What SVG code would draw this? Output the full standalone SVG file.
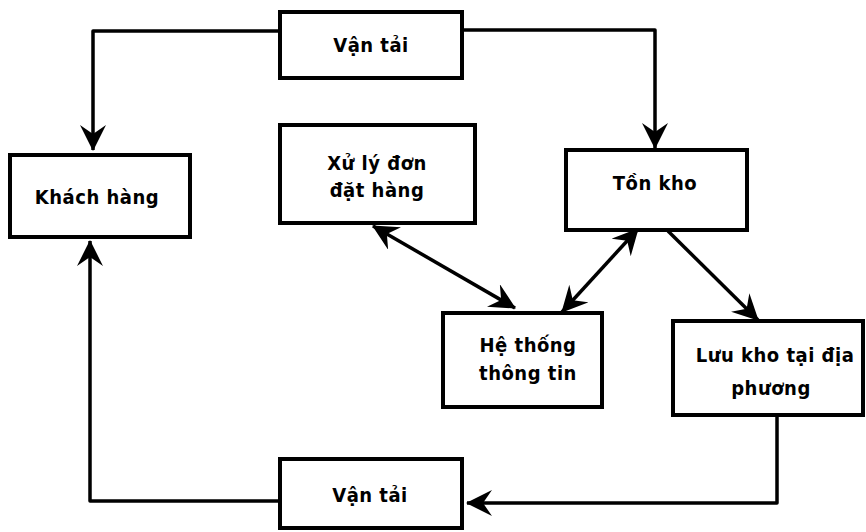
<svg xmlns="http://www.w3.org/2000/svg" width="866" height="532" viewBox="0 0 866 532">
<style>
  .box { fill: #fff; stroke: #000; stroke-width: 4; }
  .lbl { font-family: "DejaVu Sans Condensed", "Liberation Sans", sans-serif; font-weight: bold; font-size: 20px; letter-spacing: 0.5px; fill: #000; text-anchor: middle; }
  .conn { fill: none; stroke: #000; stroke-width: 3.5; stroke-linejoin: round; }
</style>
<defs>
  <marker id="ah" markerUnits="userSpaceOnUse" viewBox="0 0 26 26" refX="25" refY="13" markerWidth="26" markerHeight="26" orient="auto-start-reverse">
    <path d="M0,0 L26,13 L0,26 L9,13 z" fill="#000"/>
  </marker>
</defs>
<rect width="866" height="532" fill="#fff"/>
<g id="connectors">
  <path class="conn" d="M280,31 L93,31 L93,150" marker-end="url(#ah)"/>
  <path class="conn" d="M462,30 L655,30 L655,148" marker-end="url(#ah)"/>
  <path class="conn" d="M280,501 L90,501 L90,241" marker-end="url(#ah)"/>
  <path class="conn" d="M777,415 L777,503 L467,503" marker-end="url(#ah)"/>
  <path class="conn" d="M373,226 L515,308" marker-start="url(#ah)" marker-end="url(#ah)"/>
  <path class="conn" d="M638,229 L562,312" marker-start="url(#ah)" marker-end="url(#ah)"/>
  <path class="conn" d="M668,231 L758,320" marker-end="url(#ah)"/>
</g>
<g id="van-tai-top">
  <rect class="box" x="280" y="12" width="182" height="66"/>
  <text class="lbl" x="371" y="52">Vận tải</text>
</g>
<g id="khach-hang">
  <rect class="box" x="10" y="155" width="180" height="82"/>
  <text class="lbl" x="97" y="204">Khách hàng</text>
</g>
<g id="xu-ly">
  <rect class="box" x="280" y="125" width="195" height="98"/>
  <text class="lbl" x="377" y="170">Xử lý đơn</text>
  <text class="lbl" x="377" y="197">đặt hàng</text>
</g>
<g id="ton-kho">
  <rect class="box" x="566" y="150" width="181" height="80"/>
  <text class="lbl" x="655" y="190">Tồn kho</text>
</g>
<g id="he-thong">
  <rect class="box" x="443" y="313" width="159" height="94"/>
  <text class="lbl" x="528" y="352">Hệ thống</text>
  <text class="lbl" x="528" y="380">thông tin</text>
</g>
<g id="luu-kho">
  <rect class="box" x="673" y="321" width="190" height="94"/>
  <text class="lbl" x="775" y="362">Lưu kho tại địa</text>
  <text class="lbl" x="771" y="395">phương</text>
</g>
<g id="van-tai-bottom">
  <rect class="box" x="280" y="459" width="182" height="69"/>
  <text class="lbl" x="370" y="502">Vận tải</text>
</g>
</svg>
